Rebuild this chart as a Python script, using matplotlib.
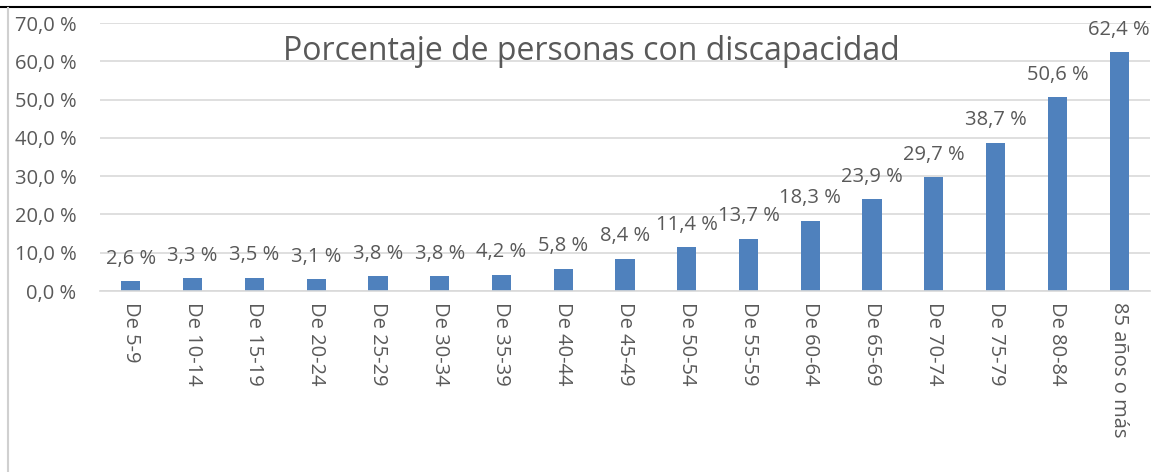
import matplotlib

matplotlib.use("Agg")
import matplotlib.pyplot as plt
from matplotlib.lines import Line2D

categories = ["De 5-9", "De 10-14", "De 15-19", "De 20-24", "De 25-29", "De 30-34",
              "De 35-39", "De 40-44", "De 45-49", "De 50-54", "De 55-59", "De 60-64",
              "De 65-69", "De 70-74", "De 75-79", "De 80-84", "85 años o más"]
values = [2.6, 3.3, 3.5, 3.1, 3.8, 3.8, 4.2, 5.8, 8.4, 11.4, 13.7, 18.3,
          23.9, 29.7, 38.7, 50.6, 62.4]
yticks = [0, 10, 20, 30, 40, 50, 60, 70]

BAR = "#4F81BD"
TXT = "#595959"
GRID = "#D9D9D9"

plt.rcParams["font.family"] = ["Open Sans", "DejaVu Sans"]

fig = plt.figure(figsize=(11.53, 4.72), dpi=100)
ax = fig.add_axes([100 / 1153, 1 - 291 / 472, 1050 / 1153, 268 / 472])

x = list(range(len(categories)))
ax.bar(x, values, width=0.31, color=BAR, zorder=2)
ax.set_xlim(-0.5, len(categories) - 0.5)
ax.set_ylim(0, 70)

ax.set_yticks(yticks)
ax.set_yticklabels([f"{v:.1f} %".replace(".", ",") for v in yticks])
ax.set_xticks(x)
ax.set_xticklabels(categories, rotation=270, va="top", ha="center")
ax.tick_params(axis="both", length=0, labelsize=14.5, colors=TXT)
ax.tick_params(axis="y", pad=17)
ax.tick_params(axis="x", pad=8)

ax.grid(axis="y", color=GRID, linewidth=1.2, zorder=0)
for side in ("top", "right", "left"):
    ax.spines[side].set_visible(False)
ax.spines["bottom"].set_color(GRID)
ax.spines["bottom"].set_linewidth(1.2)

for xi, v in zip(x, values):
    ax.annotate(f"{v:.1f} %".replace(".", ","), (xi, v), xytext=(0, 9),
                textcoords="offset points", ha="center", va="bottom",
                fontsize=14.5, color=TXT)

fig.text(591 / 1153, 1 - 52 / 472, "Porcentaje de personas con discapacidad",
         ha="center", va="center", fontsize=23, color=TXT)

fig.add_artist(Line2D([0, 1150 / 1153], [1 - 7 / 472] * 2, color="black", linewidth=1.5))
fig.add_artist(Line2D([8 / 1153] * 2, [0, 1 - 8 / 472], color="#D0D0D0", linewidth=1.5))

fig.savefig("out.png", dpi=100, facecolor="white")
